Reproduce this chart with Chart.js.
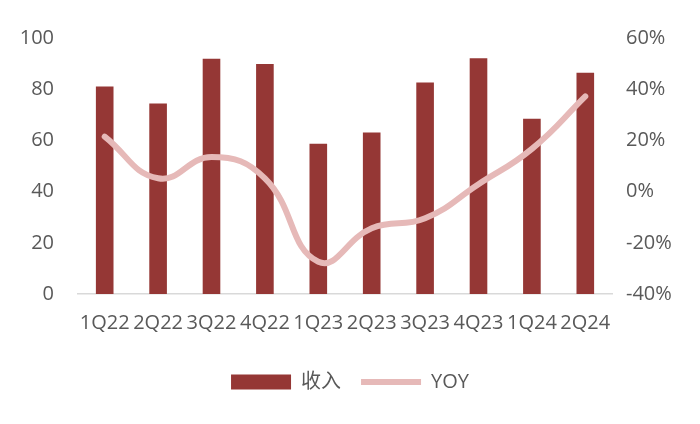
<!DOCTYPE html>
<html>
<head>
<meta charset="utf-8">
<script src="https://cdn.jsdelivr.net/npm/chart.js@4"></script>
<style>
  html, body { margin: 0; padding: 0; background: #fff; overflow: hidden; }
</style>
</head>
<body>
<canvas id="chart" width="700" height="424"></canvas>
<script>
// 季度标签
var quarters = ['1Q22', '2Q22', '3Q22', '4Q22', '1Q23', '2Q23', '3Q23', '4Q23', '1Q24', '2Q24'];
// 收入（柱状）
var revenue = [81.1, 74.4, 91.9, 89.8, 58.7, 63.1, 82.6, 92.1, 68.5, 86.4];
// YOY（%）
var yoy = [21.5, 5.2, 13.5, 5.2, -27.4, -14.3, -10.4, 2.9, 16.7, 37.2];

var barColor = '#953735';
var lineColor = '#E6B9B8';
var textColor = '#595959';
var font = { family: '"Open Sans", "Noto Sans CJK SC", sans-serif', size: 20 };

var ctx = document.getElementById('chart').getContext('2d');

new Chart(ctx, {
    data: {
        labels: quarters,
        datasets: [{
            type: 'bar',
            label: '收入',
            data: revenue,
            backgroundColor: barColor,
            yAxisID: 'y',
            barPercentage: 0.33,
            categoryPercentage: 1,
            pointStyle: 'rect',
            order: 1
        }, {
            type: 'line',
            label: 'YOY',
            data: yoy,
            borderColor: lineColor,
            backgroundColor: lineColor,
            borderWidth: 6,
            borderCapStyle: 'round',
            tension: 0.45,
            pointRadius: 0,
            pointStyle: 'line',
            pointBorderColor: lineColor,
            pointBorderWidth: 6,
            yAxisID: 'y1',
            order: 0
        }]
    },
    options: {
        responsive: false,
        animation: false,
        layout: { padding: { top: 38, bottom: 22, left: 0, right: 0 } },
        plugins: {
            tooltip: { enabled: false },
            legend: {
                position: 'bottom',
                labels: {
                    usePointStyle: true,
                    pointStyleWidth: 60,
                    boxHeight: 15,
                    color: textColor,
                    font: font,
                    padding: 20,
                    sort: function (a, b) { return a.datasetIndex - b.datasetIndex; }
                }
            }
        },
        scales: {
            x: {
                grid: { display: false },
                border: { display: true, color: '#D9D9D9', width: 1.5 },
                ticks: {
                    color: textColor,
                    font: font,
                    autoSkip: false,
                    maxRotation: 0,
                    padding: 9
                },
                afterFit: function (scale) { scale.height = 58; }
            },
            y: {
                position: 'left',
                min: 0,
                max: 100,
                grid: { display: false },
                border: { display: false },
                ticks: { stepSize: 20, color: textColor, font: font, padding: 16 },
                afterFit: function (scale) { scale.width = 78; }
            },
            y1: {
                position: 'right',
                min: -40,
                max: 60,
                grid: { display: false },
                border: { display: false },
                ticks: {
                    stepSize: 20,
                    color: textColor,
                    font: font,
                    padding: 6,
                    callback: function (v) { return v + '%'; }
                },
                afterFit: function (scale) { scale.width = 88; }
            }
        }
    }
});
</script>
</body>
</html>
